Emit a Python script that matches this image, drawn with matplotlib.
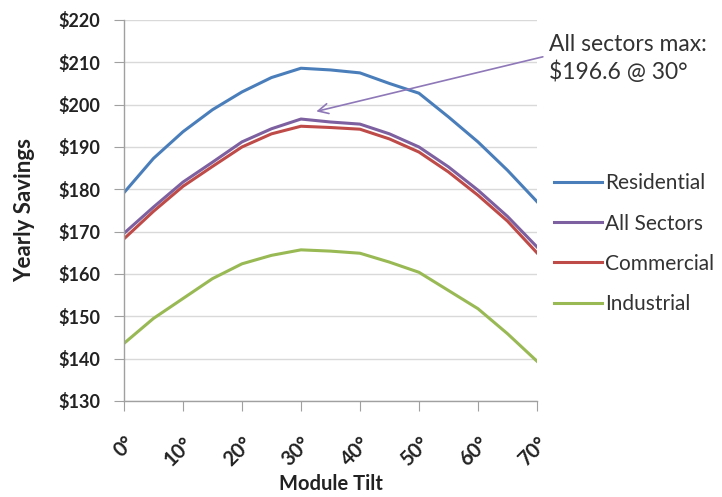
import matplotlib.pyplot as plt
from matplotlib.ticker import FuncFormatter

# yearly savings vs module tilt, by sector
tilt = [0, 5, 10, 15, 20, 25, 30, 35, 40, 45, 50, 55, 60, 65, 70]
residential = [179.2, 187.3, 193.6, 198.8, 203.0, 206.4, 208.6, 208.2, 207.5,
               205.0, 202.7, 197.1, 191.2, 184.5, 177.1]
all_sectors = [169.6, 175.8, 181.7, 186.4, 191.2, 194.3, 196.6, 195.9, 195.4,
               193.1, 190.0, 185.3, 179.8, 173.6, 166.4]
commercial = [168.3, 174.8, 180.7, 185.4, 190.0, 193.1, 194.9, 194.6, 194.2,
              191.9, 188.8, 184.1, 178.6, 172.5, 165.0]
industrial = [143.6, 149.5, 154.2, 158.9, 162.4, 164.4, 165.7, 165.4, 164.9,
              162.8, 160.4, 156.1, 151.8, 145.9, 139.4]

x_ticks = [0, 10, 20, 30, 40, 50, 60, 70]
y_ticks = [130, 140, 150, 160, 170, 180, 190, 200, 210, 220]

plt.rcParams['font.family'] = ['Lato', 'DejaVu Sans']

fig = plt.figure(figsize=(7.22, 4.97), dpi=100)
ax = fig.add_axes([0.1717, 0.1932, 0.572, 0.7666])

ax.plot(tilt, residential, color='#4A7EBB', lw=2.2, label='Residential')
ax.plot(tilt, all_sectors, color='#7D60A0', lw=2.2, label='All Sectors')
ax.plot(tilt, commercial, color='#BE4B48', lw=2.2, label='Commercial')
ax.plot(tilt, industrial, color='#98B954', lw=2.2, label='Industrial')

ax.set_xlim(0, 70)
ax.set_ylim(130, 220)
ax.set_xticks(x_ticks)
ax.set_yticks(y_ticks)
ax.xaxis.set_major_formatter(FuncFormatter(lambda v, p: f'{v:.0f}°'))
ax.yaxis.set_major_formatter(FuncFormatter(lambda v, p: f'${v:.0f}'))

ax.grid(axis='y', color='#D9D9D9', lw=1.0)
ax.set_axisbelow(True)
for s in ['top', 'right']:
    ax.spines[s].set_visible(False)
for s in ['left', 'bottom']:
    ax.spines[s].set_color('#A0A0A0')
    ax.spines[s].set_linewidth(1.0)
ax.tick_params(axis='both', direction='out', length=7, color='#A0A0A0',
               labelcolor='#222222')
ax.tick_params(axis='y', labelsize=13, pad=10)
ax.tick_params(axis='x', labelsize=14.5, pad=16)
for lbl in ax.get_yticklabels():
    lbl.set_fontweight('bold')
for lbl in ax.get_xticklabels():
    lbl.set_fontweight('bold')
    lbl.set_rotation(45)
    lbl.set_ha('right')
    lbl.set_rotation_mode('anchor')

ax.set_xlabel('Module Tilt', fontsize=14.5, fontweight='bold', color='#222222',
              labelpad=3)
ax.set_ylabel('Yearly Savings', fontsize=16, fontweight='bold', color='#222222',
              labelpad=17)

# callout for the all-sectors peak
ax.text(72.0, 210.8, 'All sectors max:\n$196.6 @ 30°', fontsize=16.5, color='#333333',
        va='center', ha='left', linespacing=1.3, clip_on=False)
ax.annotate('', xy=(32.6, 198.4), xytext=(71.0, 211.3),
            arrowprops=dict(arrowstyle='->', color='#8E78B8', lw=1.2,
                            mutation_scale=18, shrinkA=0, shrinkB=0),
            annotation_clip=False)

ax.legend(loc='center left', bbox_to_anchor=(1.017, 0.413), frameon=False,
          fontsize=15, handlelength=2.3, handletextpad=0.15, borderpad=0,
          labelspacing=0.97, labelcolor='#333333')

fig.savefig('out.png', dpi=100)
